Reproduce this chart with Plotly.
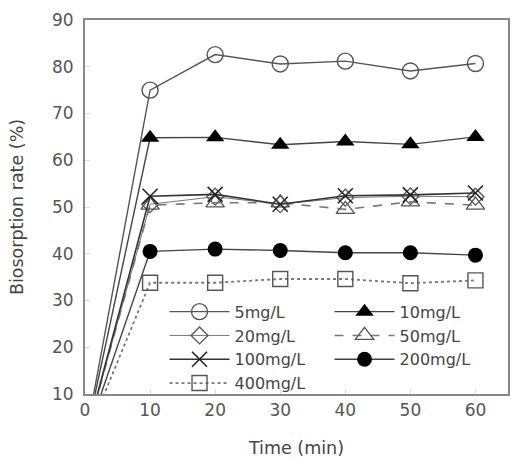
import plotly.graph_objects as go

time_min = [0, 10, 20, 30, 40, 50, 60]
names = ["5mg/L", "10mg/L", "20mg/L", "50mg/L", "100mg/L", "200mg/L", "400mg/L"]
c5 = [0, 75.0, 82.6, 80.6, 81.2, 79.1, 80.7]
c10 = [0, 64.8, 64.9, 63.3, 64.0, 63.4, 65.0]
c20 = [0, 50.6, 52.2, 50.6, 52.0, 52.3, 52.2]
c50 = [0, 50.4, 50.9, 50.9, 49.5, 51.1, 50.4]
c100 = [0, 52.3, 52.7, 50.6, 52.4, 52.6, 53.0]
c200 = [0, 40.5, 41.0, 40.7, 40.2, 40.2, 39.7]
c400 = [0, 33.8, 33.8, 34.6, 34.6, 33.7, 34.3]
series = [c5, c10, c20, c50, c100, c200, c400]

x_ticks = [0, 10, 20, 30, 40, 50, 60]
y_ticks = [10, 20, 30, 40, 50, 60, 70, 80, 90]

styles = [
    dict(line=dict(color="#555", width=1.4), marker=dict(symbol="circle-open", size=16, color="#555", line=dict(width=1.4))),
    dict(line=dict(color="#444", width=1.4), marker=dict(symbol="triangle-up", size=16, color="#000")),
    dict(line=dict(color="#777", width=1.0), marker=dict(symbol="diamond-open", size=13, color="#555", line=dict(width=1.3))),
    dict(line=dict(color="#777", width=1.6, dash="dash"), marker=dict(symbol="triangle-up-open", size=16, color="#555", line=dict(width=1.3))),
    dict(line=dict(color="#333", width=1.6), marker=dict(symbol="x-thin-open", size=15, color="#222", line=dict(width=1.6))),
    dict(line=dict(color="#444", width=1.4), marker=dict(symbol="circle", size=15, color="#000")),
    dict(line=dict(color="#777", width=1.8, dash="dot"), marker=dict(symbol="square-open", size=15, color="#555", line=dict(width=1.4))),
]

fig = go.Figure()
for name, ys, st in zip(names, series, styles):
    fig.add_trace(go.Scatter(x=time_min, y=ys, name=name, mode="lines+markers",
                             line=st["line"], marker=st["marker"], cliponaxis=True))

fig.update_layout(
    width=518, height=459,
    margin=dict(l=85, r=10, t=20, b=65, autoexpand=False),
    paper_bgcolor="white", plot_bgcolor="white",
    font=dict(family="DejaVu Sans, Arial, sans-serif", color="#555", size=17),
    showlegend=True,
    legend=dict(
        orientation="h", x=0.188, y=-0.018, xanchor="left", yanchor="bottom",
        entrywidth=90, entrywidthmode="pixels",
        bgcolor="rgba(255,255,255,0)", font=dict(size=16, color="#444"),
        tracegroupgap=0, itemwidth=60,
    ),
    xaxis=dict(
        range=[0, 65], tickvals=x_ticks, showgrid=False, zeroline=False,
        showline=True, linecolor="#888", linewidth=2, mirror=True,
        ticks="inside", ticklen=5, tickcolor="#ddd",
        tickfont=dict(size=17, color="#555"),
        title=dict(text="Time (min)", font=dict(size=17.5, color="#444"), standoff=22),
    ),
    yaxis=dict(
        range=[10, 90], tickvals=y_ticks, showgrid=False, zeroline=False,
        showline=True, linecolor="#888", linewidth=2, mirror=True,
        ticks="inside", ticklen=5, tickcolor="#ddd",
        tickfont=dict(size=17, color="#555"), ticklabelstandoff=6,
        title=dict(text="Biosorption rate (%)", font=dict(size=17.5, color="#444"), standoff=24),
    ),
)

fig.write_html("out.html")
